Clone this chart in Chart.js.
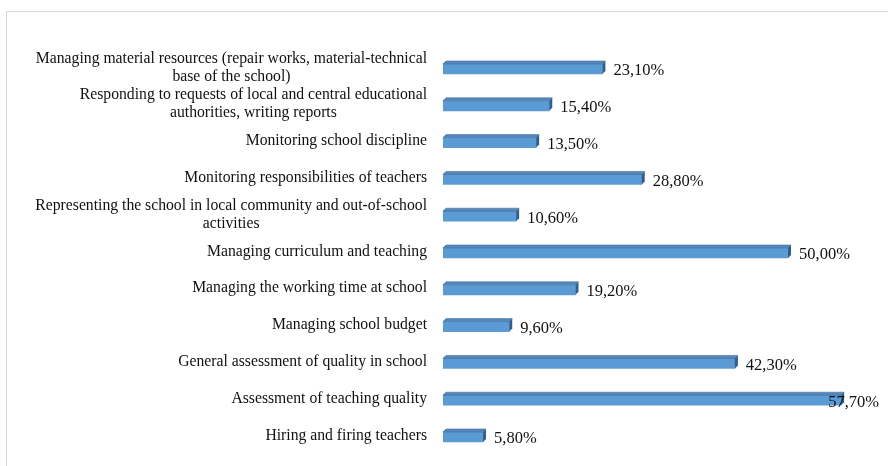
<!DOCTYPE html>
<html>
<head>
<meta charset="utf-8">
<script src="https://cdn.jsdelivr.net/npm/chart.js@4/dist/chart.umd.min.js"></script>
<style>
  html, body { margin: 0; padding: 0; background: #ffffff; }
  #wrap { width: 888px; height: 466px; position: relative; }
</style>
</head>
<body>
<div id="wrap"><canvas id="c" width="888" height="466"></canvas></div>
<script>
const categories = [
  ["Managing material resources (repair works, material-technical", "base of the school)"],
  ["Responding to requests of local and central educational", "authorities, writing reports"],
  ["Monitoring school discipline"],
  ["Monitoring responsibilities of teachers"],
  ["Representing the school in local community and out-of-school", "activities"],
  ["Managing curriculum and teaching"],
  ["Managing the working time at school"],
  ["Managing school budget"],
  ["General assessment of quality in school"],
  ["Assessment of teaching quality"],
  ["Hiring and firing teachers"]
];
const values = [23.1, 15.4, 13.5, 28.8, 10.6, 50.0, 19.2, 9.6, 42.3, 57.7, 5.8];
const axisMax = 60;

const DEPTH = 3;
const LABEL_FONT = '15.7px "Liberation Serif", "Times New Roman", serif';
const VALUE_FONT = '16.5px "Liberation Serif", "Times New Roman", serif';

const framePlugin = {
  id: 'frame',
  beforeDraw(chart) {
    const ctx = chart.ctx;
    ctx.save();
    ctx.fillStyle = '#ffffff';
    ctx.fillRect(0, 0, chart.width, chart.height);
    ctx.strokeStyle = '#d9d9d9';
    ctx.lineWidth = 1;
    ctx.strokeRect(6.5, 11.5, 1000, 1000);
    ctx.restore();
  }
};

const bar3dPlugin = {
  id: 'bar3d',
  afterDatasetsDraw(chart) {
    const ctx = chart.ctx;
    const meta = chart.getDatasetMeta(0);
    ctx.save();
    meta.data.forEach((bar) => {
      const p = bar.getProps(['x', 'y', 'base', 'height'], true);
      const top = p.y - p.height / 2;
      const bottom = p.y + p.height / 2;
      const x0 = p.base, x1 = p.x;
      // top face
      ctx.beginPath();
      ctx.moveTo(x0, top);
      ctx.lineTo(x0 + DEPTH, top - DEPTH);
      ctx.lineTo(x1 + DEPTH, top - DEPTH);
      ctx.lineTo(x1, top);
      ctx.closePath();
      ctx.fillStyle = '#5587bb';
      ctx.fill();
      ctx.strokeStyle = '#41709f';
      ctx.lineWidth = 0.6;
      ctx.stroke();
      // right face
      ctx.beginPath();
      ctx.moveTo(x1, top);
      ctx.lineTo(x1 + DEPTH, top - DEPTH);
      ctx.lineTo(x1 + DEPTH, bottom - DEPTH);
      ctx.lineTo(x1, bottom);
      ctx.closePath();
      ctx.fillStyle = '#2f5f8e';
      ctx.fill();
    });
    ctx.restore();
  }
};

const labelPlugin = {
  id: 'labels',
  afterDraw(chart) {
    const ctx = chart.ctx;
    const yScale = chart.scales.y;
    const meta = chart.getDatasetMeta(0);
    const rightEdge = 427;
    const lineH = 18;
    ctx.save();
    ctx.fillStyle = '#111111';
    ctx.textBaseline = 'middle';
    // category labels
    ctx.font = LABEL_FONT;
    categories.forEach((lines, i) => {
      const cy = yScale.getPixelForTick(i) - 1.5;
      let maxW = 0;
      lines.forEach(l => { maxW = Math.max(maxW, ctx.measureText(l).width); });
      const cx = rightEdge - maxW / 2;
      ctx.textAlign = 'center';
      const startY = cy - (lines.length - 1) * lineH / 2;
      lines.forEach((l, k) => ctx.fillText(l, cx, startY + k * lineH));
    });
    // value labels
    ctx.font = VALUE_FONT;
    ctx.textAlign = 'left';
    meta.data.forEach((bar, i) => {
      const p = bar.getProps(['x', 'y'], true);
      const txt = values[i].toFixed(2).replace('.', ',') + '%';
      const w = ctx.measureText(txt).width;
      let x = p.x + DEPTH + 8;
      if (x + w > chart.width - 9) x = chart.width - 9 - w;
      ctx.fillText(txt, x, p.y + 2);
    });
    ctx.restore();
  }
};

new Chart(document.getElementById('c'), {
  type: 'bar',
  data: {
    labels: categories,
    datasets: [{
      data: values,
      backgroundColor: '#5b9bd5',
      borderWidth: 0,
      barThickness: 10
    }]
  },
  options: {
    indexAxis: 'y',
    responsive: false,
    animation: false,
    layout: { padding: { left: 443, right: 31, top: 50.6, bottom: 10.6 } },
    scales: {
      x: { display: false, min: 0, max: axisMax },
      y: { display: false }
    },
    plugins: {
      legend: { display: false },
      tooltip: { enabled: false }
    }
  },
  plugins: [framePlugin, bar3dPlugin, labelPlugin]
});
</script>
</body>
</html>
